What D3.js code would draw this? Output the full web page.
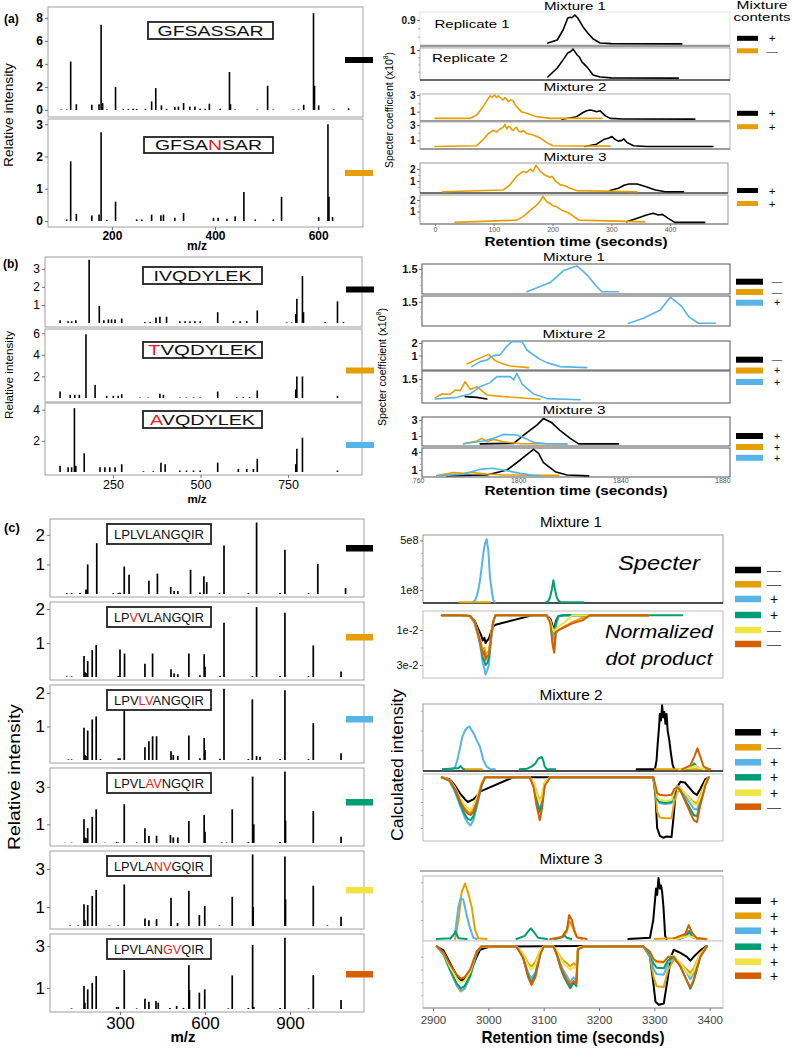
<!DOCTYPE html>
<html><head><meta charset="utf-8">
<script src="https://cdn.jsdelivr.net/npm/d3@7"></script>
<style>body{margin:0;background:#fff}svg{display:block}</style>
</head><body><svg id="c" width="792" height="1050"></svg>
<script>
// ================= DATA =================
const BLACK="#000000", ORANGE="#E69F00", BLUE="#56B4E9", GREEN="#009E73", YELLOW="#F0E442", VERM="#D55E00";

// ---- panel (a) spectra [m/z, relative intensity]
const aLabels = [["GFSASSAR"], ["GFSA","N","SAR"]];
const aSpec1 = [[102,0.05],[112,0.05],[120,4.2],[131,0.5],[161,0.45],[175,0.5],[179,7.4],[182,0.6],[190,0.05],[207,2.0],[222,0.1],[232,0.1],[241,0.1],[248,0.1],[265,0.1],[277,0.75],[285,1.9],[296,0.4],[306,0.1],[322,0.25],[329,0.3],[339,0.6],[351,0.3],[361,0.3],[371,0.1],[381,0.1],[389,0.55],[410,0.1],[428,3.3],[430,0.5],[439,0.05],[482,0.05],[502,2.1],[513,0.05],[552,0.05],[562,0.05],[572,0.45],[591,8.4],[593,2.1],[601,0.4],[630,0.05],[659,0.15]];
const aSpec2 = [[112,0.05],[120,1.85],[131,0.22],[161,0.17],[175,0.2],[179,2.75],[190,0.03],[207,0.6],[248,0.05],[258,0.05],[277,0.2],[295,0.18],[300,0.2],[322,0.1],[339,0.25],[397,0.1],[406,0.1],[423,0.07],[439,0.15],[456,0.9],[478,0.05],[513,0.05],[529,0.75],[601,0.12],[619,3.0],[621,0.75],[628,0.12]];
const aYTicks1 = [0,2,4,6,8], aYTicks2 = [0,1,2,3];
const aMzTicks = [200,400,600];

// ---- panel (a) chromatograms [retention time, coefficient x1e8]
const aM1R1Black = [[192,0.07],[208,0.18],[218,0.54],[226,0.97],[230,1.0],[233,0.98],[238,1.08],[243,0.97],[252,0.65],[260,0.43],[269,0.22],[281,0.07],[300,0.05],[420,0.04]];
const aM1R2Black = [[192,0.07],[208,0.38],[218,0.66],[226,0.9],[231,0.95],[235,1.03],[242,0.83],[246,0.75],[250,0.59],[259,0.41],[269,0.14],[281,0.07],[300,0.04],[414,0.03]];
const aM2S1Orange = [[0,0.2],[60,0.2],[71,0.6],[82,1.6],[88,2.3],[91,2.6],[94,2.9],[97,2.7],[101,3.0],[105,2.7],[108,2.9],[111,2.7],[116,2.4],[119,2.7],[122,2.5],[125,2.2],[128,2.4],[133,2.3],[136,1.9],[139,1.6],[147,1.0],[156,0.8],[173,0.4],[196,0.2],[284,0.2]];
const aM2S1Black = [[216,0.1],[241,0.4],[252,0.9],[258,1.1],[264,1.2],[270,1.1],[275,1.0],[281,1.1],[290,0.5],[298,0.2],[320,0.12],[442,0.1]];
const aM2S2Orange = [[0,0.2],[71,0.3],[82,1.1],[91,1.9],[99,2.3],[105,2.1],[111,2.5],[116,2.7],[119,3.1],[122,2.5],[125,2.8],[128,2.7],[131,2.4],[133,2.3],[136,2.6],[139,2.7],[142,2.2],[147,2.1],[150,2.3],[156,1.9],[167,1.7],[179,1.3],[190,0.7],[201,0.3],[298,0.25]];
const aM2S2Black = [[255,0.2],[275,0.5],[287,1.1],[296,1.3],[301,1.5],[307,1.1],[312,0.9],[318,1.0],[321,1.2],[327,0.7],[338,0.3],[360,0.2],[473,0.2]];
const aM3S1Orange = [[13,0.1],[116,0.25],[128,0.7],[139,1.4],[150,1.8],[156,1.7],[162,2.0],[167,1.8],[172,2.3],[179,1.8],[187,1.5],[196,1.3],[199,1.4],[205,1.0],[213,0.7],[221,0.6],[230,0.4],[241,0.2],[343,0.1]];
const aM3S1Black = [[298,0.2],[312,0.4],[322,0.65],[330,0.75],[344,0.75],[358,0.55],[375,0.25],[392,0.1],[423,0.1]];
const aM3S2Orange = [[34,0.05],[139,0.25],[150,0.55],[162,1.1],[173,1.55],[178,1.85],[184,2.3],[190,1.85],[196,1.7],[199,1.55],[207,1.4],[213,1.2],[216,1.1],[224,0.95],[230,0.8],[238,0.5],[245,0.25],[357,0.1]];
const aM3S2Black = [[326,0.1],[343,0.4],[360,0.7],[371,0.85],[380,0.7],[387,0.75],[397,0.4],[408,0.05],[459,0.05]];
const aTimeTicks = [0,100,200,300,400];
const aColors = [BLACK, ORANGE];
const aSigns = [["+","—"],["+","+"],["+","+"]];

// ---- panel (b) spectra
const bLabels = [["IVQDYLEK"], ["","T","VQDYLEK"], ["","A","VQDYLEK"]];
const bSpec1 = [[99,0.15],[122,0.1],[132,0.1],[144,0.15],[182,3.5],[211,0.95],[224,0.15],[237,0.2],[246,0.2],[256,0.2],[275,0.25],[341,0.05],[356,0.05],[373,0.3],[384,0.35],[403,0.35],[441,0.1],[456,0.1],[470,0.1],[484,0.1],[499,0.1],[549,0.6],[594,0.1],[613,0.1],[632,0.1],[662,0.7],[746,0.03],[760,0.03],[772,0.5],[775,1.35],[791,2.6],[794,0.6],[856,0.05],[891,1.2],[908,0.05]];
const bSpec2 = [[99,0.6],[128,0.3],[141,0.3],[154,0.3],[173,5.9],[199,1.2],[232,0.2],[251,0.2],[265,0.2],[275,0.35],[327,0.05],[351,0.05],[384,0.4],[394,0.3],[441,0.05],[460,0.05],[480,0.05],[499,0.05],[549,0.6],[603,0.1],[622,0.1],[640,0.1],[662,0.7],[772,0.8],[775,2.0],[791,2.0],[891,0.2]];
const bSpec3 = [[99,0.4],[122,0.3],[132,0.3],[140,4.1],[144,0.4],[168,1.2],[213,0.3],[227,0.3],[241,0.3],[256,0.3],[275,0.5],[337,0.05],[365,0.05],[387,0.6],[399,0.5],[441,0.1],[460,0.1],[480,0.1],[499,0.1],[549,0.6],[608,0.2],[632,0.2],[651,0.2],[662,0.85],[772,0.5],[775,1.5],[791,2.2],[891,0.1]];
const bYTicks = [[1,2,3],[2,4,6],[2,4]];
const bMzTicks = [250,500,750];

// ---- panel (b) chromatograms
const bM1S1Blue = [[1803.4,0.08],[1808.6,0.4],[1812.5,0.65],[1817.8,1.4],[1820.4,1.54],[1823,1.69],[1825.6,1.33],[1827.6,1.02],[1830.2,0.5],[1832.8,0.08],[1839.3,0.08]];
const bM1S2Blue = [[1843.3,0.05],[1849.1,0.39],[1855.7,0.95],[1859.6,1.82],[1864.2,1.18],[1866.8,0.5],[1870.7,0.05],[1877.3,0.05]];
const bM2S1Orange = [[1779.9,0.32],[1783.8,0.69],[1788.4,1.09],[1791,0.59],[1794.2,0.32],[1796.9,0.16],[1804,0.03]];
const bM2S1Blue = [[1781.8,0.11],[1785.1,0.51],[1787.7,0.64],[1790.3,0.99],[1792.9,1.05],[1795.6,1.76],[1797.5,2.1],[1801.5,2.1],[1803.4,1.44],[1806,1.04],[1808.6,0.69],[1811.3,0.43],[1816.5,0.11],[1826.9,0.03]];
const bM2S2Black = [[1779.2,0.24],[1783.8,0.19],[1787.7,0.07]];
const bM2S2Orange = [[1767.5,0.17],[1770.1,0.43],[1773.3,0.4],[1775.3,0.71],[1777.3,0.67],[1779.2,1.31],[1781.2,0.76],[1783.8,0.95],[1787.7,0.36],[1794.2,0.24],[1808.6,0.05]];
const bM2S2Blue = [[1767.5,0.07],[1776,0.19],[1781.2,0.43],[1785.1,0.95],[1789,1.24],[1791.6,1.67],[1796.9,1.67],[1798.2,1.43],[1799.5,1.9],[1801.5,1.14],[1806,0.43],[1811.3,0.1],[1824.3,0.02]];
const bM3S1Black = [[1785.1,0.02],[1798.2,0.08],[1803.4,1.42],[1807.3,2.38],[1809.9,3.2],[1813.2,2.67],[1816.5,1.67],[1820.4,0.71],[1823.7,0.02],[1839.3,0.02]];
const bM3S1Orange = [[1778.6,0.04],[1783.8,0.38],[1785.8,0.71],[1787.7,0.29],[1790.3,0.58],[1794.2,0.29],[1800.8,0.04],[1819.1,0.02]];
const bM3S1Blue = [[1778.6,0.04],[1786.4,0.38],[1790.3,0.71],[1794.2,1.21],[1799.5,1.13],[1802.7,0.71],[1806,0.21],[1811.3,0.04],[1819.1,0.02]];
const bM3S2Black = [[1772,0.06],[1787.7,0.17],[1795.6,1.0],[1800.8,2.67],[1804,3.78],[1806,4.44],[1808,3.78],[1809.9,2.22],[1814.5,0.72],[1819.1,0.17],[1827.6,0.02]];
const bM3S2Orange = [[1768.1,0.06],[1774.6,0.56],[1778.6,0.44],[1781.2,0.61],[1787.7,0.33],[1794.2,0.17],[1815.8,0.1]];
const bM3S2Blue = [[1768.1,0.02],[1778.6,0.28],[1785.1,1.11],[1789.7,1.28],[1794.2,1.0],[1800.8,0.44],[1806,0.1],[1808.6,0.02]];
const bTimeTicks = [1760,1800,1840,1880];
const bColors = [BLACK, ORANGE, BLUE];
const bSigns = [["—","—","+"],["—","+","+"],["+","+","+"]];

// ---- panel (c) spectra
const cLabels = [["LPLVLANGQIR"],["LP","V","VLANGQIR"],["LPV","LV","ANGQIR"],["LPVL","AV","NGQIR"],["LPVLA","NV","GQIR"],["LPVLAN","GV","QIR"]];
const cSpec1 = [[112,0.03],[129,0.03],[159,0.03],[180,0.15],[183,0.12],[186,1.0],[218,1.72],[276,0.03],[294,0.03],[300,0.04],[315,0.93],[332,0.65],[402,0.45],[432,0.69],[479,0.24],[491,0.1],[504,0.1],[549,0.82],[582,0.05],[596,0.6],[606,0.4],[651,0.03],[667,1.64],[753,0.03],[782,2.42],[865,0.03],[882,1.5],[965,0.03],[998,1.02],[1096,0.2]];
const cSpec2 = [[112,0.02],[129,0.02],[173,0.62],[176,0.15],[180,0.12],[186,0.47],[202,0.79],[216,0.94],[294,0.03],[300,0.81],[316,0.69],[388,0.39],[415,0.69],[480,0.23],[491,0.1],[504,0.08],[543,0.69],[582,0.05],[597,0.67],[600,0.3],[653,0.03],[667,1.6],[767,0.03],[782,2.06],[865,0.03],[882,1.89],[965,0.03],[982,0.93],[1080,0.16]];
const cSpec3 = [[118,0.02],[129,0.02],[173,0.96],[176,0.15],[180,0.12],[186,0.88],[202,1.21],[216,1.3],[231,0.03],[294,0.05],[300,0.05],[315,1.53],[388,0.38],[402,0.56],[415,0.71],[429,0.71],[480,0.26],[488,0.15],[504,0.12],[543,0.73],[582,0.05],[597,0.66],[600,0.3],[653,0.04],[667,2.13],[753,0.03],[767,1.81],[782,0.12],[794,0.1],[865,0.03],[882,2.08],[965,0.03],[982,1.1],[1080,0.2]];
const cSpec4 = [[106,0.02],[129,0.02],[173,1.27],[176,0.3],[180,0.25],[186,0.79],[202,1.4],[216,1.8],[247,0.02],[288,0.05],[294,0.03],[315,2.07],[359,0.03],[388,0.79],[402,0.38],[429,0.39],[478,0.43],[488,0.3],[504,0.3],[543,1.18],[597,1.5],[600,0.6],[659,0.03],[676,0.03],[696,1.8],[753,0.05],[768,3.55],[772,1.0],[865,0.05],[882,3.82],[884,1.2],[982,1.71],[1080,0.34]];
const cSpec5 = [[124,0.03],[153,0.03],[173,1.14],[176,0.3],[186,1.1],[202,1.58],[216,1.9],[262,0.03],[294,0.03],[315,2.19],[388,0.4],[402,0.3],[429,0.37],[480,1.49],[503,0.15],[543,1.86],[580,0.58],[599,1.05],[651,0.03],[696,1.54],[768,3.77],[770,1.0],[882,3.65],[884,1.4],[982,2.12],[1032,0.03],[1080,0.49]];
const cSpec6 = [[129,0.03],[173,1.1],[176,0.3],[186,0.94],[202,1.25],[216,1.57],[288,0.1],[294,0.1],[315,1.86],[359,0.03],[388,0.49],[402,0.35],[427,0.38],[435,0.3],[476,0.05],[500,0.15],[524,0.05],[543,2.08],[545,0.9],[580,0.78],[599,0.94],[682,0.03],[696,1.6],[753,0.05],[768,3.05],[772,0.1],[865,0.05],[882,3.4],[965,0.03],[982,1.62],[1080,0.43]];
const cYTicks = [[1,2],[1,2],[1,2],[1,3],[1,3],[1,3]];
const cMzTicks = [300,600,900];

// ---- panel (c) chromatograms: Specter (positive) and normalized dot product (plotted downward)
const c1sOrange = [[2948,0.03],[3003,0.03]];
const c1sBlue = [[2973,0.05],[2976,0.15],[2979,0.5],[2982,1.0],[2985,1.8],[2988,2.85],[2991,3.95],[2994,4.75],[2997,5.1],[3000,4.2],[3003,2.05],[3006,1.0],[3009,0.2],[3012,0.03]];
const c1sGreen = [[3104,0.03],[3108,0.1],[3111.5,0.4],[3114.6,1.0],[3117.6,1.8],[3120.6,1.0],[3123.7,0.4],[3127,0.15],[3130,0.05],[3172,0.03]];
const c1dBlack = [[2916,0.15],[2945,0.15],[2967,0.2],[2975,0.45],[2982,0.95],[2987,1.3],[2990,1.6],[2993,1.45],[2995,1.75],[2998,1.6],[3001,1.5],[3005,1.1],[3009,0.8],[3013,0.7],[3081,0.15],[3105,0.15],[3112,0.35],[3116,0.75],[3119,0.95],[3122,0.5],[3127,0.2],[3140,0.15],[3289,0.15]];
const c1dTimes = [2916,2945,2967,2975,2982,2987,2990,2993,2995,2998,3001,3005,3009,3013,3105,3112,3116,3119,3122,3127,3140,3152,3170,3184,3289];
const c1dOrange = [0.15,0.15,0.2,0.5,1.2,1.8,2.2,2.0,2.5,2.3,2.2,1.3,0.5,0.15,0.15,0.5,1.6,2.2,1.2,1.0,0.75,0.55,0.3,0.15,0.15];
const c1dBlue = [0.15,0.15,0.2,0.6,1.4,2.2,2.9,3.2,3.55,3.3,3.0,1.6,0.6,0.15,0.15,0.5,1.2,1.55,0.8,0.2,0.15,0.15,0.15,0.15,0.15];
const c1dGreen = [0.15,0.15,0.2,0.55,1.3,2.0,2.6,2.8,3.0,2.9,2.6,1.4,0.5,0.15,0.15,0.5,1.0,1.15,0.6,0.2,0.15,0.15,0.15,0.15,0.15];
const c1dGreenTail = [[3289,0.15],[3350,0.15]];
const c1dYellow = [0.15,0.15,0.2,0.5,1.25,1.9,2.3,2.2,2.6,2.5,2.3,1.3,0.5,0.15,0.15,0.5,0.9,1.1,0.95,0.8,0.5,0.15,0.15,0.15,0.15];
const c1dVerm = [0.15,0.15,0.2,0.5,1.3,1.9,2.4,2.2,2.7,2.5,2.4,1.4,0.5,0.15,0.15,0.6,1.8,2.3,1.1,1.0,0.8,0.62,0.45,0.15,0.15];

const c2sBlack = [[3268,0.01],[3301,0.01],[3304,0.15],[3306,0.4],[3308,0.6],[3310,0.85],[3312,0.75],[3314,0.98],[3316,0.8],[3318,0.88],[3320,0.7],[3322,0.85],[3324,0.6],[3327,0.45],[3330,0.25],[3333,0.08],[3336,0.01]];
const c2sOrange = [[2955,0.01],[2988,0.01],null,[3301,0.01],[3401,0.01]];
const c2sBlue = [[2918,0.01],[2935,0.01],[2940,0.04],[2944,0.15],[2948,0.3],[2953,0.5],[2958,0.6],[2962,0.64],[2966,0.66],[2970,0.6],[2974,0.55],[2979,0.45],[2985,0.35],[2991,0.15],[2997,0.05],[3004,0.01],[3012,0.01]];
const c2sGreen = [[2918,0.01],[2946,0.03],[2950,0.06],[2954,0.02],[2956,0.01],null,[3057,0.01],[3070,0.02],[3078,0.05],[3085,0.1],[3090,0.17],[3096,0.2],[3099,0.15],[3102,0.05],[3106,0.01],[3121,0.01],null,[3355,0.01],[3365,0.03],[3372,0.1],[3376,0.05],[3385,0.01]];
const c2sYellow = [[3345,0.01],[3365,0.03],[3374,0.06],[3380,0.03],[3390,0.01]];
const c2sVerm = [[3350,0.01],[3365,0.07],[3372,0.2],[3378,0.33],[3383,0.2],[3389,0.05],[3400,0.01]];
const c2dBlack = [[2916,0.02],[2930,0.05],[2940,0.15],[2950,0.28],[2958,0.36],[2963,0.4],[2968,0.38],[2973,0.36],[2980,0.3],[2985,0.24],[3045,0.02],[3298,0.02],[3302,0.3],[3305,0.8],[3310,0.92],[3316,0.95],[3322,0.93],[3331,0.94],[3335,0.6],[3339,0.2],[3347,0.09],[3355,0.1],[3363,0.18],[3371,0.26],[3377,0.29],[3383,0.2],[3392,0.05],[3398,0.02]];
const c2dTimes = [2916,2930,2940,2950,2958,2963,2968,2973,2980,2988,2994,3075,3082,3087,3093,3097,3102,3112,3298,3302,3305,3310,3320,3331,3336,3341,3347,3359,3371,3377,3383,3392,3398];
const c2dOrange = [0.02,0.06,0.2,0.38,0.5,0.55,0.57,0.5,0.35,0.12,0.02,0.02,0.1,0.25,0.37,0.3,0.1,0.02,0.02,0.25,0.55,0.64,0.65,0.65,0.4,0.25,0.22,0.3,0.4,0.42,0.3,0.1,0.02];
const c2dBlue = [0.02,0.08,0.25,0.48,0.65,0.72,0.76,0.68,0.45,0.15,0.02,0.02,0.15,0.35,0.52,0.4,0.12,0.02,0.02,0.2,0.36,0.42,0.43,0.42,0.25,0.15,0.18,0.35,0.5,0.52,0.36,0.12,0.02];
const c2dGreen = [0.02,0.07,0.22,0.44,0.6,0.66,0.68,0.62,0.4,0.14,0.02,0.02,0.15,0.38,0.55,0.42,0.12,0.02,0.02,0.2,0.35,0.4,0.41,0.4,0.25,0.18,0.22,0.42,0.6,0.62,0.42,0.14,0.02];
const c2dYellow = [0.02,0.06,0.18,0.36,0.46,0.5,0.52,0.46,0.32,0.1,0.02,0.02,0.1,0.27,0.4,0.32,0.1,0.02,0.02,0.18,0.32,0.37,0.38,0.37,0.22,0.16,0.18,0.3,0.43,0.45,0.32,0.1,0.02];
const c2dVerm = [0.02,0.07,0.2,0.4,0.53,0.58,0.6,0.55,0.38,0.13,0.02,0.02,0.18,0.45,0.68,0.5,0.15,0.02,0.02,0.15,0.26,0.29,0.3,0.29,0.2,0.17,0.22,0.45,0.68,0.71,0.45,0.15,0.02];

const c3sBlack = [[3253,0.0],[3292,0.02],[3298,0.3],[3301,0.6],[3303,0.8],[3305,0.7],[3307.5,0.97],[3310,0.8],[3312,0.85],[3314,0.75],[3316.5,0.5],[3319.5,0.05],[3322,0.0]];
const c3sOrange = [[2940,0],[2946,0.3],[2952,0.75],[2958,0.88],[2964,0.72],[2970,0.51],[2976,0.15],[2982,0.01],[2997,0],null,[3120,0],[3135,0.03],[3142,0.12],[3147,0.28],[3151,0.22],[3156,0.1],[3161,0.02],[3170,0],null,[3301,0],[3350,0.02],[3362,0.12],[3370,0.02],[3395,0]];
const c3sBlue = [[2931,0],[2940,0.1],[2946,0.51],[2950,0.65],[2955,0.62],[2960,0.41],[2966,0.2],[2973,0.02],[2979,0],null,[3340,0],[3356,0.03],[3362,0.13],[3368,0.03],[3380,0]];
const c3sGreen = [[2907,0],[2931,0.01],[2937,0.06],[2941,0.12],[2946,0.01],[2961,0],null,[3051,0],[3066,0.05],[3072,0.12],[3077,0.17],[3083,0.1],[3090,0.02],[3106,0],null,[3120,0],[3133,0.03],[3137,0.06],[3142,0.02],[3150,0],null,[3345,0],[3358,0.05],[3363,0.12],[3368,0.04],[3380,0]];
const c3sYellow = [[3340,0],[3362,0.05],[3380,0]];
const c3sVerm = [[3112,0],[3133,0.03],[3142,0.15],[3146,0.38],[3151,0.3],[3155,0.15],[3160,0.03],[3178,0],null,[3335,0.01],[3356,0.08],[3362,0.22],[3368,0.1],[3377,0.01],[3392,0]];
const c3dBlack = [[2907,0.04],[2919,0.1],[2931,0.3],[2943,0.5],[2950,0.57],[2957,0.55],[2967,0.45],[2979,0.2],[2985,0.09],[3003,0.04],[3172,0.03],[3196,0.03],[3280,0.03],[3292,0.2],[3298,0.6],[3302,0.9],[3308,0.95],[3317,0.93],[3323,0.6],[3330,0.2],[3335,0.09],[3347,0.14],[3359,0.2],[3365,0.26],[3371,0.2],[3383,0.1],[3395,0.03]];
const c3dTimes = [2907,2919,2931,2943,2950,2957,2967,2979,2987,3003,3051,3063,3072,3078,3085,3094,3100,3118,3124,3130,3136,3142,3148,3154,3159,3162,3172,3280,3292,3298,3304,3317,3325,3335,3347,3359,3365,3371,3383,3395];
const c3dOrange = [0.04,0.15,0.4,0.65,0.74,0.7,0.5,0.12,0.04,0.05,0.04,0.15,0.3,0.35,0.28,0.1,0.04,0.04,0.12,0.2,0.26,0.3,0.35,0.3,0.34,0.06,0.04,0.04,0.2,0.5,0.66,0.67,0.4,0.25,0.3,0.4,0.45,0.38,0.15,0.04];
const c3dBlue = [0.04,0.16,0.42,0.64,0.72,0.7,0.52,0.14,0.04,0.04,0.04,0.2,0.45,0.54,0.44,0.14,0.04,0.04,0.15,0.3,0.42,0.5,0.59,0.52,0.57,0.08,0.04,0.04,0.18,0.38,0.47,0.48,0.3,0.22,0.3,0.45,0.55,0.46,0.18,0.04];
const c3dGreen = [0.04,0.16,0.4,0.62,0.69,0.66,0.5,0.14,0.04,0.04,0.04,0.22,0.5,0.6,0.48,0.15,0.04,0.04,0.18,0.36,0.5,0.6,0.69,0.6,0.66,0.08,0.04,0.04,0.15,0.3,0.37,0.38,0.25,0.2,0.35,0.58,0.7,0.58,0.2,0.04];
const c3dYellow = [0.04,0.14,0.36,0.54,0.6,0.58,0.44,0.12,0.04,0.04,0.04,0.16,0.33,0.4,0.33,0.1,0.04,0.04,0.12,0.22,0.3,0.35,0.4,0.36,0.39,0.06,0.04,0.04,0.12,0.24,0.29,0.3,0.2,0.18,0.3,0.44,0.5,0.42,0.15,0.04];
const c3dVerm = [0.04,0.13,0.32,0.48,0.54,0.52,0.4,0.12,0.04,0.04,0.04,0.22,0.52,0.64,0.52,0.16,0.04,0.04,0.16,0.34,0.46,0.56,0.64,0.58,0.62,0.08,0.04,0.04,0.12,0.23,0.27,0.28,0.2,0.2,0.35,0.58,0.68,0.56,0.2,0.04];
const cTimeTicks = [2900,3000,3100,3200,3300,3400];
const cColors = [BLACK, ORANGE, BLUE, GREEN, YELLOW, VERM];
const cSigns = [["—","—","+","+","—","—"],["+","—","+","+","+","—"],["+","+","+","+","+","+"]];

// ================= DRAWING =================
const FONT = '"Liberation Sans", Arial, Helvetica, sans-serif';
const NARROW = '"Liberation Sans Narrow", "Arial Narrow", "Liberation Sans", sans-serif';
const svg = d3.select("#c").attr("font-family", FONT);
const intFmt = d3.format("d");

function txt(x, y, s, o = {}) {
  const t = svg.append("text").attr("x", x).attr("y", y).text(s)
    .attr("font-size", o.fs || 12).attr("text-anchor", o.anchor || "middle")
    .attr("font-weight", o.fw || "normal").attr("fill", o.fill || "#000");
  if (o.rot) t.attr("transform", `rotate(${o.rot},${x},${y})`);
  if (o.style) t.attr("font-style", o.style);
  if (o.tl) t.attr("textLength", o.tl).attr("lengthAdjust", "spacingAndGlyphs");
  if (o.family) t.attr("font-family", o.family);
  return t;
}
function styleAxis(sel, fs, fw, fill, family) {
  sel.select(".domain").remove();
  sel.selectAll(".tick text").attr("font-size", fs).attr("font-weight", fw || "normal")
    .attr("fill", fill || "#000").attr("font-family", family || FONT);
  sel.selectAll(".tick line").attr("stroke", "#777");
}
function spectrum(o) {
  const g = svg.append("g");
  const x = o.xs;
  const y = d3.scaleLinear().domain([0, o.ymax]).range([o.base, o.top]);
  g.append("rect").attr("x", o.x0).attr("y", o.y0).attr("width", o.x1 - o.x0).attr("height", o.y1 - o.y0)
    .attr("fill", "#fff").attr("stroke", "#a0a0a0").attr("stroke-width", 1);
  g.selectAll("line.pk").data(o.peaks).join("line").attr("class", "pk")
    .attr("x1", d => x(d[0])).attr("x2", d => x(d[0]))
    .attr("y1", y(0)).attr("y2", d => y(d[1]))
    .attr("stroke", "#000").attr("stroke-width", o.bw || 1.6);
  const ax = g.append("g").attr("transform", `translate(${o.x0},0)`)
    .call(d3.axisLeft(y).tickValues(o.ticks).tickSize(3).tickPadding(2).tickFormat(intFmt));
  styleAxis(ax, o.tfs, o.tfw);
  const [lx, ly, lw, lh] = o.lbox;
  g.append("rect").attr("x", lx).attr("y", ly).attr("width", lw).attr("height", lh)
    .attr("fill", "#fff").attr("stroke", "#222").attr("stroke-width", o.lsw || 1.8);
  const t = g.append("text").attr("x", lx + lw / 2).attr("y", ly + lh / 2).attr("dy", "0.36em")
    .attr("text-anchor", "middle").attr("font-size", o.lfs);
  o.label.forEach((p, i) => t.append("tspan").text(p).attr("fill", i % 2 ? "#ee1c24" : "#111"));
  if (o.ltl) t.attr("textLength", o.ltl).attr("lengthAdjust", "spacingAndGlyphs");
  g.append("rect").attr("x", o.sw[0]).attr("y", o.sw[1]).attr("width", o.sw[2]).attr("height", o.sw[3]).attr("fill", o.color);
}
function chrom(o) {
  const g = svg.append("g");
  const y = d3.scaleLinear().domain(o.yd).range(o.yr);
  const x = o.xs;
  if (o.frame !== false)
    g.append("rect").attr("x", o.x0).attr("y", o.y0).attr("width", o.x1 - o.x0).attr("height", o.y1 - o.y0)
      .attr("fill", "#fff").attr("stroke", o.fc || "#b0b0b0").attr("stroke-width", o.fw || 1);
  if (o.bottom)
    g.append("line").attr("x1", o.x0).attr("x2", o.x1).attr("y1", o.y1).attr("y2", o.y1)
      .attr("stroke", o.bottom).attr("stroke-width", o.bw || 1.3);
  const line = d3.line().defined(d => d !== null).x(d => x(d[0])).y(d => y(d[1]));
  o.series.forEach(s => g.append("path").attr("d", line(s[1])).attr("fill", "none")
    .attr("stroke", s[0]).attr("stroke-width", o.lw || 1.6)
    .attr("stroke-linejoin", "round").attr("stroke-linecap", "round"));
  if (o.minor) {
    const mx = g.append("g").attr("transform", `translate(${o.x0},0)`)
      .call(d3.axisLeft(y).tickValues(o.minor).tickSize(2).tickFormat(""));
    mx.select(".domain").remove(); mx.selectAll("line").attr("stroke", "#aaa");
  }
  if (o.ticks) {
    const ax = g.append("g").attr("transform", `translate(${o.x0},0)`)
      .call(d3.axisLeft(y).tickValues(o.ticks).tickSize(3).tickPadding(1.5).tickFormat(o.fmt || (d => d)));
    styleAxis(ax, o.tfs || 10, o.tfw || "bold", "#111", o.family);
  }
  return g;
}
function legend(x, ys, colors, signs, w, h, sx, fs) {
  ys.forEach((yy, i) => {
    svg.append("rect").attr("x", x).attr("y", yy - h / 2).attr("width", w).attr("height", h).attr("fill", colors[i]);
    txt(sx, yy, signs[i], { fs: fs, fill: signs[i] === "+" ? "#000" : "#555" }).attr("dy", "0.36em");
  });
}
function vlabel(x, y, parts, fs, tl) {
  const t = svg.append("text").attr("x", x).attr("y", y).attr("text-anchor", "middle")
    .attr("font-size", fs).attr("transform", `rotate(-90,${x},${y})`);
  t.append("tspan").text(parts[0]);
  if (parts.length > 1) {
    t.append("tspan").text(parts[1]).attr("font-size", fs * 0.65).attr("dy", -fs * 0.4);
    t.append("tspan").text(parts[2]).attr("dy", fs * 0.4);
  }
  if (tl) t.attr("textLength", tl).attr("lengthAdjust", "spacingAndGlyphs");
  return t;
}

// ---------- Panel (a) left ----------
const aX = d3.scaleLinear().domain([76, 687]).range([48, 363]);
spectrum({ xs: aX, x0: 48, x1: 363, y0: 7, y1: 117, base: 110, top: 12, ymax: 8.5, peaks: aSpec1, ticks: aYTicks1, tfs: 12, tfw: "bold",
  lbox: [148, 22, 125, 17], label: aLabels[0], lfs: 14, ltl: 106, sw: [345, 57, 28, 6], color: BLACK });
spectrum({ xs: aX, x0: 48, x1: 363, y0: 119, y1: 227, base: 221, top: 121, ymax: 3.1, peaks: aSpec2, ticks: aYTicks2, tfs: 12, tfw: "bold",
  lbox: [144, 137, 129, 16], label: aLabels[1], lfs: 14, ltl: 107, sw: [345, 170, 28, 6], color: ORANGE });
{
  const ax = svg.append("g").attr("transform", "translate(0,227)").call(d3.axisBottom(aX).tickValues(aMzTicks).tickSize(3).tickPadding(1).tickFormat(intFmt));
  styleAxis(ax, 12, "bold");
}
txt(197, 250, "m/z", { fs: 12, fw: "bold" });
vlabel(13, 115, ["Relative intensity"], 12, 104);
txt(4, 23, "(a)", { fs: 12, fw: "bold", anchor: "start" });

// ---------- Panel (a) right ----------
const aT = d3.scaleLinear().domain([-25.5, 502]).range([420, 730]);
chrom({ xs: aT, x0: 420, x1: 730, y0: 12, y1: 46, yd: [0, 1.5], yr: [45, 3.3], fc: "#e4e4e4", bottom: "#999", bw: 2.5,
  series: [[BLACK, aM1R1Black]], ticks: [0.9], minor: [0.3, 0.6], tfs: 10 });
txt(575, 10, "Mixture 1", { fs: 10.5, tl: 62 });
txt(762, 8.5, "Mixture", { fs: 10.5, tl: 51 });
txt(762, 21, "contents", { fs: 10.5, tl: 57 });
txt(472, 28, "Replicate 1", { fs: 10.5, tl: 75 });
chrom({ xs: aT, x0: 420, x1: 730, y0: 48, y1: 80, yd: [0, 1.07], yr: [79, 48], bottom: "#444",
  series: [[BLACK, aM1R2Black]], ticks: [1], minor: [0.25, 0.5, 0.75], tfs: 10 });
txt(470, 62, "Replicate 2", { fs: 10.5, tl: 76 });
txt(575, 91, "Mixture 2", { fs: 10.5, tl: 63 });
chrom({ xs: aT, x0: 420, x1: 730, y0: 94, y1: 121, yd: [0, 3.12], yr: [120, 94], bottom: "#999", bw: 2,
  series: [[BLACK, aM2S1Black], [ORANGE, aM2S1Orange]], ticks: [1, 3], minor: [2], tfs: 10 });
chrom({ xs: aT, x0: 420, x1: 730, y0: 122, y1: 149, yd: [0, 3.4], yr: [148, 122], bottom: "#888",
  series: [[BLACK, aM2S2Black], [ORANGE, aM2S2Orange]], ticks: [1, 3], minor: [2], tfs: 10 });
txt(575, 161, "Mixture 3", { fs: 10.5, tl: 63 });
chrom({ xs: aT, x0: 420, x1: 728, y0: 163, y1: 193, yd: [0, 2.5], yr: [193, 163], fc: "#999", bottom: "#555",
  series: [[BLACK, aM3S1Black], [ORANGE, aM3S1Orange]], ticks: [1, 2], minor: [0.5, 1.5], tfs: 10 });
chrom({ xs: aT, x0: 420, x1: 728, y0: 195, y1: 224, yd: [0, 2.43], yr: [223, 195], fc: "#999", bottom: "#999",
  series: [[BLACK, aM3S2Black], [ORANGE, aM3S2Orange]], ticks: [1, 2], minor: [0.5, 1.5], tfs: 10 });
{
  const ax = svg.append("g").attr("transform", "translate(0,224)").call(d3.axisBottom(aT).tickValues(aTimeTicks).tickSize(2).tickPadding(1).tickFormat(intFmt));
  styleAxis(ax, 7, "normal", "#555");
}
txt(576, 246, "Retention time (seconds)", { fs: 13, fw: "bold", tl: 183 });
vlabel(393, 110, ["Specter coefficient (x10", "8", ")"], 11.5, 116);
legend(737, [38.3, 50.8], aColors, aSigns[0], 21, 5, 772, 11.5);
legend(737, [113.3, 126.7], aColors, aSigns[1], 21, 5, 772, 11.5);
legend(737, [190.5, 203.5], aColors, aSigns[2], 21, 5, 772, 11.5);

// ---------- Panel (b) left ----------
const bX = d3.scaleLinear().domain([56, 961]).range([45, 362]);
spectrum({ xs: bX, x0: 45, x1: 362, y0: 257, y1: 327, base: 323, top: 258, ymax: 3.6, peaks: bSpec1, ticks: bYTicks[0], tfs: 12,
  lbox: [143, 267, 119, 17], label: bLabels[0], lfs: 14, ltl: 98, sw: [346, 286.5, 28, 6], color: BLACK });
spectrum({ xs: bX, x0: 45, x1: 362, y0: 329, y1: 402, base: 398, top: 330, ymax: 6.3, peaks: bSpec2, ticks: bYTicks[1], tfs: 12,
  lbox: [143, 342, 119, 16], label: bLabels[1], lfs: 14, ltl: 109, sw: [346, 367.5, 28, 6], color: ORANGE });
spectrum({ xs: bX, x0: 45, x1: 362, y0: 403, y1: 475, base: 472, top: 405, ymax: 4.3, peaks: bSpec3, ticks: bYTicks[2], tfs: 12,
  lbox: [143, 411, 119, 17], label: bLabels[2], lfs: 14, ltl: 105, sw: [346, 442, 28, 6], color: BLUE });
{
  const ax = svg.append("g").attr("transform", "translate(0,475)").call(d3.axisBottom(bX).tickValues(bMzTicks).tickSize(3).tickPadding(2).tickFormat(intFmt));
  styleAxis(ax, 12.5, "normal");
}
txt(197, 503, "m/z", { fs: 11.5, fw: "bold" });
vlabel(13, 375, ["Relative intensity"], 11.5, 88);
txt(3, 268, "(b)", { fs: 12, fw: "bold", anchor: "start" });

// ---------- Panel (b) right ----------
const bT = d3.scaleLinear().domain([1762.3, 1883]).range([422, 730]);
txt(574, 261, "Mixture 1", { fs: 11, tl: 62 });
chrom({ xs: bT, x0: 422, x1: 730, y0: 264, y1: 294, yd: [0, 1.81], yr: [293, 264], fc: "#555",
  series: [[BLUE, bM1S1Blue]], ticks: [1.5], minor: [0.5, 1.0], tfs: 11 });
chrom({ xs: bT, x0: 422, x1: 730, y0: 296, y1: 326, yd: [0, 1.9], yr: [324, 296], fc: "#555",
  series: [[BLUE, bM1S2Blue]], ticks: [1.5], minor: [0.5, 1.0], tfs: 11 });
txt(574, 338, "Mixture 2", { fs: 11, tl: 63 });
chrom({ xs: bT, x0: 422, x1: 730, y0: 341, y1: 370, yd: [0, 2.2], yr: [368, 340.5], fc: "#555",
  series: [[ORANGE, bM2S1Orange], [BLUE, bM2S1Blue]], ticks: [1, 2], minor: [0.5, 1.5], tfs: 11 });
chrom({ xs: bT, x0: 422, x1: 730, y0: 371, y1: 403, yd: [0, 2.07], yr: [400, 371], fc: "#555",
  series: [[BLACK, bM2S2Black], [ORANGE, bM2S2Orange], [BLUE, bM2S2Blue]], ticks: [1.5], minor: [0.5, 1.0], tfs: 11 });
txt(574, 414, "Mixture 3", { fs: 11, tl: 63 });
chrom({ xs: bT, x0: 422, x1: 730, y0: 417, y1: 446, yd: [0, 3.4], yr: [444, 417], fc: "#555",
  series: [[BLACK, bM3S1Black], [ORANGE, bM3S1Orange], [BLUE, bM3S1Blue]], ticks: [1, 3], minor: [2], tfs: 11 });
chrom({ xs: bT, x0: 422, x1: 730, y0: 448, y1: 477, yd: [0, 4.67], yr: [476, 448], fc: "#555",
  series: [[BLACK, bM3S2Black], [ORANGE, bM3S2Orange], [BLUE, bM3S2Blue]], ticks: [1, 4], minor: [2, 3], tfs: 11 });
svg.append("defs").append("clipPath").attr("id", "bclip").append("rect").attr("x", 412).attr("y", 470).attr("width", 330).attr("height", 20);
{
  const ax = svg.append("g").attr("clip-path", "url(#bclip)").append("g").attr("transform", "translate(0,477)")
    .call(d3.axisBottom(bT).tickValues(bTimeTicks).tickSize(0).tickPadding(1.5).tickFormat(intFmt));
  styleAxis(ax, 7, "normal", "#555");
}
txt(576, 495, "Retention time (seconds)", { fs: 13, fw: "bold", tl: 183 });
vlabel(386, 367, ["Specter coefficient (x10", "8", ")"], 11.5, 118);
legend(736, [281.7, 292, 302.7], bColors, bSigns[0], 27, 6, 777, 10.5);
legend(736, [359.7, 370.5, 382], bColors, bSigns[1], 27, 6, 777, 10.5);
legend(736, [436, 447, 457.8], bColors, bSigns[2], 27, 6, 777, 10.5);

// ---------- Panel (c) left ----------
const cX = d3.scaleLinear().domain([53, 1161]).range([50, 364]);
const cTops = [519, 602, 685, 768, 851, 934];
const cYMax = [2.47, 2.15, 2.18, 3.9, 3.84, 3.48];
const cSpecs = [cSpec1, cSpec2, cSpec3, cSpec4, cSpec5, cSpec6];
const cSwY = [548, 637, 719, 802, 890, 974];
cTops.forEach((t, i) => {
  spectrum({ xs: cX, x0: 50, x1: 364, y0: t, y1: t + 78, base: t + 75, top: t + 2, ymax: cYMax[i], peaks: cSpecs[i],
    ticks: cYTicks[i], tfs: 17, bw: 1.7, lbox: [107, t + 5, 104, 20], label: cLabels[i], lfs: 12.5, ltl: 90,
    lsw: 1.8, sw: [346, cSwY[i] - 3, 27, 6.5], color: cColors[i] });
});
{
  const ax = svg.append("g").attr("transform", "translate(0,1012)").call(d3.axisBottom(cX).tickValues(cMzTicks).tickSize(3).tickPadding(2).tickFormat(intFmt));
  styleAxis(ax, 17, "normal");
}
txt(183, 1042, "m/z", { fs: 15, fw: "bold" });
vlabel(20, 777, ["Relative intensity"], 17, 146);
txt(4, 532, "(c)", { fs: 13, fw: "bold", anchor: "start" });

// ---------- Panel (c) right ----------
const cT = d3.scaleLinear().domain([2882, 3424]).range([423, 723]);
const Z = (t, v) => d3.zip(t, v);
txt(571, 527, "Mixture 1", { fs: 15, tl: 62 });
chrom({ xs: cT, x0: 423, x1: 723, y0: 535, y1: 603, yd: [0, 5.4], yr: [602.5, 535.5], fc: "#999", bottom: "#222",
  series: [[ORANGE, c1sOrange], [BLUE, c1sBlue], [GREEN, c1sGreen]], lw: 2,
  ticks: [1, 5], fmt: d => d + "e8", minor: [2, 3, 4], tfs: 11, tfw: "normal", family: NARROW });
txt(659, 570, "Specter", { fs: 20, style: "italic", tl: 82 });
chrom({ xs: cT, x0: 423, x1: 723, y0: 611, y1: 678, yd: [0, 3.8], yr: [612.5, 679], fc: "#bbb",
  series: [[BLACK, c1dBlack], [ORANGE, Z(c1dTimes, c1dOrange)], [BLUE, Z(c1dTimes, c1dBlue)], [GREEN, Z(c1dTimes, c1dGreen)], [GREEN, c1dGreenTail],
    [YELLOW, Z(c1dTimes, c1dYellow)], [VERM, Z(c1dTimes, c1dVerm)]], lw: 2,
  ticks: [1, 3], fmt: d => d + "e-2", minor: [2], tfs: 11, tfw: "normal", family: NARROW });
txt(659, 638, "Normalized", { fs: 19, style: "italic", tl: 108 });
txt(659, 665, "dot product", { fs: 19, style: "italic", tl: 107 });

txt(571, 700, "Mixture 2", { fs: 15, tl: 63 });
chrom({ xs: cT, x0: 423, x1: 723, y0: 704, y1: 771, yd: [0, 1], yr: [770, 704], fc: "#999", bottom: "#222",
  series: [[BLACK, c2sBlack], [ORANGE, c2sOrange], [BLUE, c2sBlue], [GREEN, c2sGreen], [YELLOW, c2sYellow], [VERM, c2sVerm]], lw: 2,
  minor: [0.3, 0.6, 0.9] });
chrom({ xs: cT, x0: 423, x1: 723, y0: 774, y1: 841, yd: [0, 1], yr: [776, 841], fc: "#bbb",
  series: [[BLACK, c2dBlack], [ORANGE, Z(c2dTimes, c2dOrange)], [BLUE, Z(c2dTimes, c2dBlue)], [GREEN, Z(c2dTimes, c2dGreen)],
    [YELLOW, Z(c2dTimes, c2dYellow)], [VERM, Z(c2dTimes, c2dVerm)]], lw: 2,
  minor: [0.2, 0.4, 0.6, 0.8] });

txt(571, 864, "Mixture 3", { fs: 15, tl: 63 });
svg.append("line").attr("x1", 420).attr("x2", 723).attr("y1", 871).attr("y2", 871).attr("stroke", "#999").attr("stroke-width", 1.5);
chrom({ xs: cT, x0: 423, x1: 723, y0: 876, y1: 941, yd: [0, 1], yr: [939, 876], fc: "#bbb",
  series: [[BLACK, c3sBlack], [ORANGE, c3sOrange], [BLUE, c3sBlue], [GREEN, c3sGreen], [YELLOW, c3sYellow], [VERM, c3sVerm]], lw: 2,
  minor: [0.3, 0.6, 0.9] });
chrom({ xs: cT, x0: 423, x1: 723, y0: 941, y1: 1008, yd: [0, 1], yr: [944, 1008], fc: "#ccc", bottom: "#999", bw: 1,
  series: [[BLACK, c3dBlack], [ORANGE, Z(c3dTimes, c3dOrange)], [BLUE, Z(c3dTimes, c3dBlue)], [GREEN, Z(c3dTimes, c3dGreen)],
    [YELLOW, Z(c3dTimes, c3dYellow)], [VERM, Z(c3dTimes, c3dVerm)]], lw: 2,
  minor: [0.2, 0.4, 0.6, 0.8] });
{
  const ax = svg.append("g").attr("transform", "translate(0,1008)").call(d3.axisBottom(cT).tickValues(cTimeTicks).tickSize(3).tickPadding(5).tickFormat(intFmt));
  styleAxis(ax, 11.5, "normal", "#444", NARROW);
}
txt(573, 1043, "Retention time (seconds)", { fs: 17, fw: "bold", tl: 183 });
vlabel(403, 765, ["Calculated intensity"], 17, 152);
legend(735, [570, 584.3, 599, 615, 630, 644], cColors, cSigns[0], 26, 6.5, 774, 14);
legend(735, [732.3, 747.3, 762.3, 777.3, 792.7, 806.7], cColors, cSigns[1], 26, 6.5, 774, 14);
legend(735, [900.7, 915.7, 930.7, 946.7, 961.7, 975.7], cColors, cSigns[2], 26, 6.5, 774, 14);
</script></body></html>
